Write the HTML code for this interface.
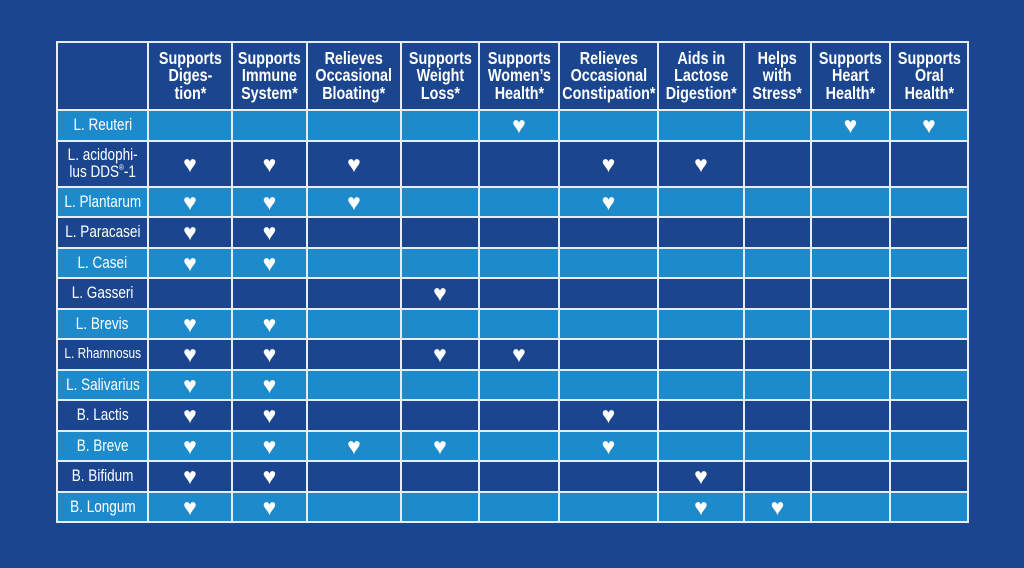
<!DOCTYPE html>
<html><head><meta charset="utf-8"><style>
html,body{margin:0;padding:0;background:#1b468f;width:1024px;height:568px;overflow:hidden}
.g{position:absolute;left:56px;top:41px;padding:2px;background:#e6edf5;display:grid;gap:2px;
grid-template-columns:89px 82px 73px 92px 76px 78px 97px 84px 65px 77px 76px;
grid-template-rows:66px 29px 44px 28px 29px 28px 29px 28px 29px 28px 29px 28px 29px 28px;
font-family:"Liberation Sans",sans-serif;color:#fff}
.g div{background:#1b468f;display:flex;align-items:center;justify-content:center;text-align:center;font-size:23px;line-height:1;overflow:visible;white-space:nowrap}
.g div.l{background:#1d8bcb}
.g div span{display:inline-block;transform:scaleX(0.82)}
.g div.h span{font-weight:bold;font-size:17.5px;line-height:17.5px}
.g div.n span{font-size:16.5px;line-height:17px}
sup{font-size:8px;vertical-align:7px;line-height:0}
</style></head><body>
<div class="g">
<div class="h"></div><div class="h"><span>Supports<br>Diges-<br>tion*</span></div><div class="h"><span>Supports<br>Immune<br>System*</span></div><div class="h"><span>Relieves<br>Occasional<br>Bloating*</span></div><div class="h"><span>Supports<br>Weight<br>Loss*</span></div><div class="h"><span>Supports<br>Women’s<br>Health*</span></div><div class="h"><span>Relieves<br>Occasional<br>Constipation*</span></div><div class="h"><span>Aids in<br>Lactose<br>Digestion*</span></div><div class="h"><span>Helps<br>with<br>Stress*</span></div><div class="h"><span>Supports<br>Heart<br>Health*</span></div><div class="h"><span>Supports<br>Oral<br>Health*</span></div>

<div class="l n"><span>L. Reuteri</span></div><div class="l"></div><div class="l"></div><div class="l"></div><div class="l"></div><div class="l">♥</div><div class="l"></div><div class="l"></div><div class="l"></div><div class="l">♥</div><div class="l">♥</div>

<div class="n"><span>L. acidophi-<br>lus DDS<sup>®</sup>-1</span></div><div>♥</div><div>♥</div><div>♥</div><div></div><div></div><div>♥</div><div>♥</div><div></div><div></div><div></div>

<div class="l n"><span>L. Plantarum</span></div><div class="l">♥</div><div class="l">♥</div><div class="l">♥</div><div class="l"></div><div class="l"></div><div class="l">♥</div><div class="l"></div><div class="l"></div><div class="l"></div><div class="l"></div>

<div class="n"><span>L. Paracasei</span></div><div>♥</div><div>♥</div><div></div><div></div><div></div><div></div><div></div><div></div><div></div><div></div>

<div class="l n"><span>L. Casei</span></div><div class="l">♥</div><div class="l">♥</div><div class="l"></div><div class="l"></div><div class="l"></div><div class="l"></div><div class="l"></div><div class="l"></div><div class="l"></div><div class="l"></div>

<div class="n"><span>L. Gasseri</span></div><div></div><div></div><div></div><div>♥</div><div></div><div></div><div></div><div></div><div></div><div></div>

<div class="l n"><span>L. Brevis</span></div><div class="l">♥</div><div class="l">♥</div><div class="l"></div><div class="l"></div><div class="l"></div><div class="l"></div><div class="l"></div><div class="l"></div><div class="l"></div><div class="l"></div>

<div class="n"><span style="font-size:14.5px">L. Rhamnosus</span></div><div>♥</div><div>♥</div><div></div><div>♥</div><div>♥</div><div></div><div></div><div></div><div></div><div></div>

<div class="l n"><span>L. Salivarius</span></div><div class="l">♥</div><div class="l">♥</div><div class="l"></div><div class="l"></div><div class="l"></div><div class="l"></div><div class="l"></div><div class="l"></div><div class="l"></div><div class="l"></div>

<div class="n"><span>B. Lactis</span></div><div>♥</div><div>♥</div><div></div><div></div><div></div><div>♥</div><div></div><div></div><div></div><div></div>

<div class="l n"><span>B. Breve</span></div><div class="l">♥</div><div class="l">♥</div><div class="l">♥</div><div class="l">♥</div><div class="l"></div><div class="l">♥</div><div class="l"></div><div class="l"></div><div class="l"></div><div class="l"></div>

<div class="n"><span>B. Bifidum</span></div><div>♥</div><div>♥</div><div></div><div></div><div></div><div></div><div>♥</div><div></div><div></div><div></div>

<div class="l n"><span>B. Longum</span></div><div class="l">♥</div><div class="l">♥</div><div class="l"></div><div class="l"></div><div class="l"></div><div class="l"></div><div class="l">♥</div><div class="l">♥</div><div class="l"></div><div class="l"></div>
</div>
</body></html>
